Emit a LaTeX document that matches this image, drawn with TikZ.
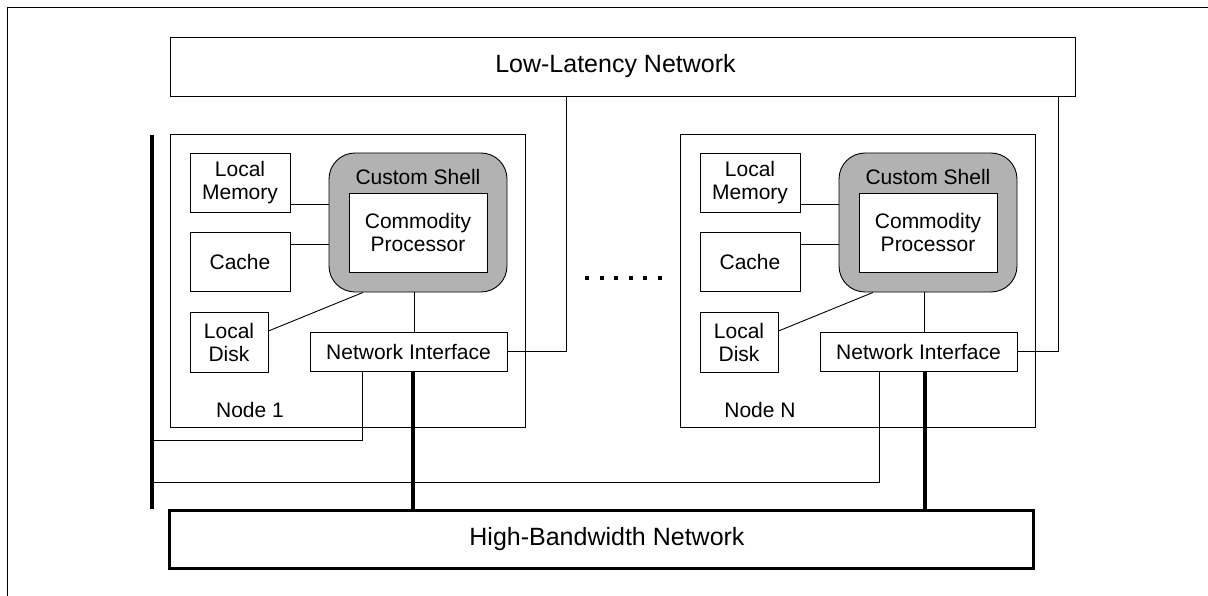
\documentclass[tikz,border=0pt]{standalone}
\usepackage{fontspec}
\setmainfont{Liberation Sans}
\usetikzlibrary{calc}
\tikzset{
  thinline/.style={line width=0.9pt, draw=black},
  busline/.style={line width=4pt, draw=black},
  box/.style={draw=black, line width=0.9pt, rectangle, inner sep=0pt, align=center,
              font=\fontsize{21}{23}\selectfont, fill=white},
  bigbox/.style={draw=black, line width=0.9pt, rectangle, inner sep=0pt, align=center,
              font=\fontsize{25}{28}\selectfont},
  shell/.style={draw=black, line width=0.9pt, rounded corners=26pt, fill=black!30, inner sep=0pt},
  lbl/.style={inner sep=0pt, font=\fontsize{21}{23}\selectfont, align=center},
}
\newcommand\drawunit[3]{%
 \begin{scope}[shift={(#2,0)}]
  \node[box, minimum width=355, minimum height=293, fill=none] (n#1) at (347.5,280.5) {};
  \node[lbl] (nl#1) at (250,410) {#3};
  \node[shell, minimum width=178, minimum height=139] (sh#1) at (418,222.5) {};
  \node[lbl] (cs#1) at (418,177) {Custom Shell};
  \node[box, minimum width=138, minimum height=79] (cp#1) at (418,232.5) {Commodity\\Processor};
  \node[box, minimum width=100, minimum height=59] (lm#1) at (240,182.5) {Local\\Memory};
  \node[box, minimum width=100, minimum height=59] (c#1) at (240,261.5) {Cache};
  \node[box, minimum width=78, minimum height=60] (ld#1) at (229,342) {Local\\Disk};
  \node[box, minimum width=197, minimum height=39] (ni#1) at (408.5,351.5) {Network Interface};
  \draw[thinline] (lm#1.east |- 0,204) -- (sh#1.west |- 0,204);
  \draw[thinline] (c#1.east |- 0,244) -- (sh#1.west |- 0,244);
  \draw[thinline] (ld#1.east |- 0,331) -- ($(sh#1.south)+(-55,0)$);
  \draw[thinline] (sh#1.south -| 414,0) -- (ni#1.north -| 414,0);
 \end{scope}}
\begin{document}
\begin{tikzpicture}[x=1pt,y=-1pt]
  \useasboundingbox (0,0) rectangle (1208,596);
  % outer frame (top and left edges visible)
  \coordinate (ftl) at (7,7);
  \coordinate (ftr) at (1208,7);
  \coordinate (fbl) at (7,596);
  \draw[thinline] (ftr) -- (ftl) -- (fbl);
  % networks
  \node[bigbox, minimum width=905, minimum height=59] (ll) at (622.5,66.5) {};
  \node[inner sep=0pt, font=\fontsize{25}{28}\selectfont] (llt) at (615.5,66) {Low-Latency Network};
  \node[bigbox, line width=3.5pt, minimum width=864, minimum height=58] (hb) at (601.5,539.5) {};
  \node[inner sep=0pt, font=\fontsize{25}{28}\selectfont] (hbt) at (607,539) {High-Bandwidth Network};
  % left bus
  \coordinate (lbt) at (152,135);
  \coordinate (lbb) at (152,509);
  \draw[line width=4pt] (lbt) -- (lbb);
  % units
  \drawunit{a}{0}{Node 1}
  \drawunit{b}{510}{Node N}
  % ellipsis dots
  \foreach \i in {0,...,5} {
    \fill ($(587,278)+(\i*14.6,0)+(-2,-2)$) rectangle ++(4,4);
  }
  % low-latency connections
  \draw[thinline] (nia.east) -| (ll.south -| 566,0);
  \draw[thinline] (nib.east) -| (ll.south -| 1058,0);
  % high-bandwidth connections
  \draw[busline] (nia.south -| 413,0) -- (hb.north -| 413,0);
  \draw[busline] (nib.south -| 925,0) -- (hb.north -| 925,0);
  % connections to left bus
  \draw[thinline] (nia.south -| 362,0) |- (lbb |- 0,440);
  \draw[thinline] (nib.south -| 879,0) |- (lbb |- 0,482);
\end{tikzpicture}
\end{document}
